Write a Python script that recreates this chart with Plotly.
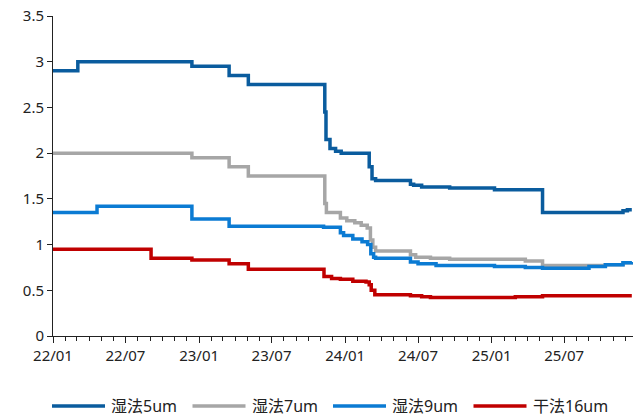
import plotly.graph_objects as go

# Price series (step changes), dates of each change and the new level
dates_5um = ["2022-01-01", "2022-03-04", "2022-12-14", "2023-03-17", "2023-05-04",
             "2023-11-09", "2023-11-11", "2023-11-14", "2023-11-24", "2023-12-08",
             "2023-12-22", "2024-03-01", "2024-03-08", "2024-03-17", "2024-06-12",
             "2024-06-20", "2024-07-10", "2024-09-18", "2025-01-08", "2025-05-08",
             "2025-11-25", "2025-12-06", "2025-12-17"]
vals_5um = [2.90, 3.00, 2.95, 2.85, 2.75,
            2.75, 2.45, 2.15, 2.05, 2.02,
            2.00, 1.85, 1.72, 1.70, 1.66,
            1.65, 1.63, 1.62, 1.60, 1.35,
            1.37, 1.38, 1.38]

dates_7um = ["2022-01-01", "2022-12-14", "2023-03-17", "2023-05-04", "2023-11-09",
             "2023-11-11", "2023-11-15", "2023-12-20", "2024-01-05", "2024-01-25",
             "2024-02-10", "2024-02-25", "2024-03-04", "2024-03-10", "2024-03-17",
             "2024-06-12", "2024-06-25", "2024-08-01", "2024-09-18", "2025-03-26",
             "2025-05-08", "2025-09-01", "2025-10-12", "2025-11-25", "2025-12-17"]
vals_7um = [2.00, 1.95, 1.85, 1.75, 1.75,
            1.45, 1.35, 1.29, 1.26, 1.24,
            1.21, 1.18, 1.05, 0.97, 0.93,
            0.89, 0.86, 0.85, 0.84, 0.82,
            0.77, 0.77, 0.78, 0.80, 0.81]

dates_9um = ["2022-01-01", "2022-04-21", "2022-12-14", "2023-03-17", "2023-11-08",
             "2023-12-20", "2023-12-28", "2024-01-20", "2024-02-12", "2024-02-26",
             "2024-03-05", "2024-03-12", "2024-03-17", "2024-06-12", "2024-07-01",
             "2024-08-15", "2025-01-08", "2025-03-26", "2025-05-08", "2025-09-01",
             "2025-10-12", "2025-11-25", "2025-12-17"]
vals_9um = [1.35, 1.42, 1.28, 1.20, 1.19,
            1.13, 1.10, 1.06, 1.03, 1.00,
            0.90, 0.86, 0.85, 0.81, 0.79,
            0.77, 0.76, 0.75, 0.74, 0.76,
            0.78, 0.80, 0.81]

dates_16um = ["2022-01-01", "2022-09-03", "2022-12-14", "2023-03-17", "2023-05-04",
              "2023-11-09", "2023-11-28", "2023-12-20", "2024-01-20", "2024-02-22",
              "2024-03-01", "2024-03-06", "2024-03-15", "2024-06-12", "2024-07-10",
              "2024-08-01", "2025-03-01", "2025-05-08", "2025-12-17"]
vals_16um = [0.95, 0.85, 0.83, 0.79, 0.73,
             0.65, 0.63, 0.62, 0.60, 0.59,
             0.56, 0.50, 0.45, 0.44, 0.43,
             0.42, 0.43, 0.44, 0.44]

series_names = ["湿法5um", "湿法7um", "湿法9um", "干法16um"]
series_colors = ["#0A5C9E", "#A6A6A6", "#0B7BD3", "#C00000"]

font_family = "Noto Sans, Noto Sans CJK SC, sans-serif"
text_color = "#222222"

fig = go.Figure()
for name, color, xs, ys in zip(series_names, series_colors,
                               [dates_5um, dates_7um, dates_9um, dates_16um],
                               [vals_5um, vals_7um, vals_9um, vals_16um]):
    fig.add_trace(go.Scatter(
        x=xs, y=ys, name=name, mode="lines",
        line=dict(color=color, width=3.5, shape="hv"),
        showlegend=False,
    ))

# Legend row below the plot: long line samples followed by the series name
W, H = 640, 419
ML, MR, MT, MB = 53, 7, 16, 83
plot_w, plot_h = W - ML - MR, H - MT - MB


def px_to_paper_x(px):
    return (px - ML) / plot_w


def px_to_paper_y(py):
    return (H - MB - py) / plot_h


legend_y = px_to_paper_y(406)
legend_start = 52   # left end of the first sample line
entry_pitch = 140.5  # spacing between legend entries
sample_len = 53
text_gap = 4

shapes, annotations = [], []
for i, (name, color) in enumerate(zip(series_names, series_colors)):
    x0 = legend_start + i * entry_pitch
    shapes.append(dict(
        type="line", xref="paper", yref="paper",
        x0=px_to_paper_x(x0), x1=px_to_paper_x(x0 + sample_len),
        y0=legend_y, y1=legend_y,
        line=dict(color=color, width=3.5),
    ))
    annotations.append(dict(
        xref="paper", yref="paper",
        x=px_to_paper_x(x0 + sample_len + text_gap), y=legend_y,
        xanchor="left", yanchor="middle", showarrow=False,
        text=name, font=dict(size=16, color=text_color, family=font_family),
    ))

fig.update_layout(
    width=W, height=H,
    margin=dict(l=ML, r=MR, t=MT, b=MB, autoexpand=False),
    paper_bgcolor="white", plot_bgcolor="white",
    font=dict(family=font_family, size=15, color=text_color),
    showlegend=False,
    shapes=shapes,
    annotations=annotations,
)

fig.update_xaxes(
    type="date",
    range=["2022-01-01", "2025-12-20"],
    tickformat="%y/%m", dtick="M6", tick0="2022-01-01",
    ticks="outside", ticklen=6, tickcolor=text_color,
    showline=True, linecolor=text_color, linewidth=1,
    showgrid=False, zeroline=False,
    minor=dict(dtick="M1", ticks="outside", ticklen=4, tickcolor=text_color, showgrid=False),
    tickfont=dict(size=15),
)

fig.update_yaxes(
    range=[0, 3.5], dtick=0.5, tick0=0,
    ticks="outside", ticklen=5, tickcolor=text_color,
    showline=True, linecolor=text_color, linewidth=1,
    showgrid=False, zeroline=False,
    tickfont=dict(size=15),
)

fig.write_html("out.html")
